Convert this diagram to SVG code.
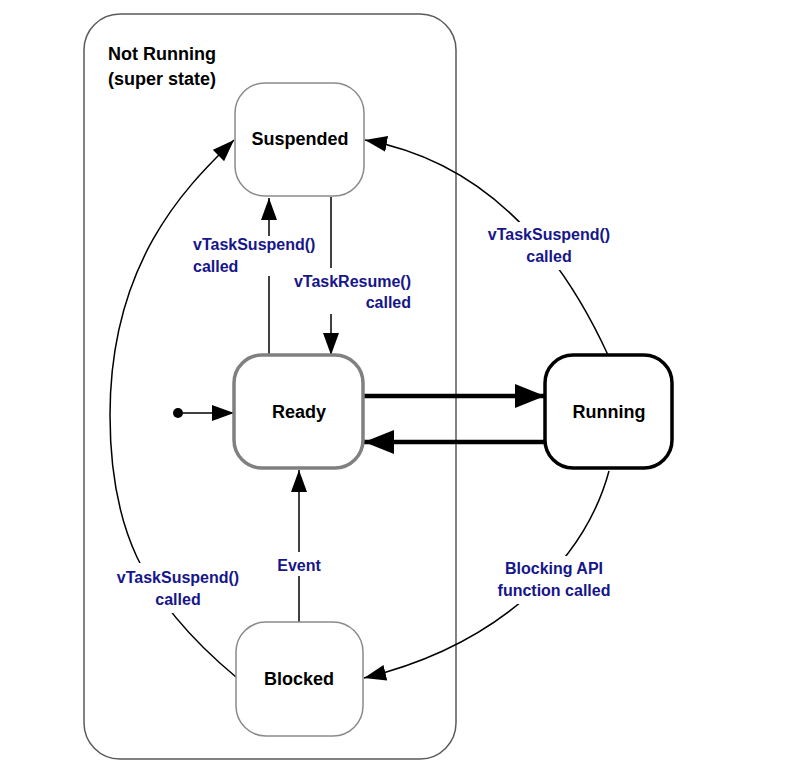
<svg xmlns="http://www.w3.org/2000/svg" width="785" height="777" viewBox="0 0 785 777">
<defs>
<style>
.state{fill:#fff;stroke:#8a8a8a;stroke-width:1.5}
.ready{fill:#fff;stroke:#808080;stroke-width:3.5}
.running{fill:#fff;stroke:#000;stroke-width:3.5}
.super{fill:none;stroke:#5a5a5a;stroke-width:1.5}
.name{font-family:"Liberation Sans",Arial,sans-serif;font-weight:bold;font-size:18px;fill:#000;text-anchor:middle}
.title{font-family:"Liberation Sans",Arial,sans-serif;font-weight:bold;font-size:18px;fill:#000}
.lbl{font-family:"Liberation Sans",Arial,sans-serif;font-weight:bold;font-size:16px;fill:#16168a;text-anchor:middle}
.edge{fill:none;stroke:#000;stroke-width:1.5}
.thick{fill:none;stroke:#000;stroke-width:4.5}
.bg{fill:#fff;stroke:none}
</style>
<marker id="arr" markerUnits="userSpaceOnUse" markerWidth="22" markerHeight="16" refX="22" refY="8" orient="auto">
<path d="M0,0 L22,8 L0,16 z" fill="#000"/>
</marker>
<marker id="arrBig" markerUnits="userSpaceOnUse" markerWidth="30" markerHeight="24" refX="30" refY="12" orient="auto">
<path d="M0,0 L30,12 L0,24 z" fill="#000"/>
</marker>
</defs>

<g id="not-running">
<rect class="super" x="84" y="14" width="372" height="745" rx="36" ry="36"/>
<text class="title" x="108" y="60">Not Running</text>
<text class="title" x="108" y="85">(super state)</text>
</g>

<g id="connectors">
<path class="edge" d="M183,413 L234,413" marker-end="url(#arr)"/>
<path class="edge" d="M269,355 L269,198" marker-end="url(#arr)"/>
<path class="edge" d="M331,197 L331,355" marker-end="url(#arr)"/>
<path class="edge" d="M299,622 L299,470" marker-end="url(#arr)"/>
<path class="thick" d="M364,396 L545,396" marker-end="url(#arrBig)"/>
<path class="thick" d="M545,442 L364,442" marker-end="url(#arrBig)"/>
<path class="edge" d="M608,355 Q522,168 365,140" marker-end="url(#arr)"/>
<path class="edge" d="M609,471 C585,560 500,645 364,678" marker-end="url(#arr)"/>
<path class="edge" d="M236,677 C140,597 110,525 110,415 C110,255 194,180 234,140" marker-end="url(#arr)"/>
</g>

<g id="labels">
<rect class="bg" x="191" y="236" width="128" height="40"/>
<text class="lbl" style="text-anchor:start" x="193" y="250">vTaskSuspend()</text>
<text class="lbl" style="text-anchor:start" x="193" y="272">called</text>
<rect class="bg" x="288" y="268" width="125" height="46"/>
<text class="lbl" style="text-anchor:end" x="411" y="287">vTaskResume()</text>
<text class="lbl" style="text-anchor:end" x="411" y="308">called</text>
<rect class="bg" x="485" y="222" width="129" height="48"/>
<text class="lbl" x="549" y="240">vTaskSuspend()</text>
<text class="lbl" x="549" y="262">called</text>
<rect class="bg" x="494" y="556" width="120" height="48"/>
<text class="lbl" x="554" y="574">Blocking API</text>
<text class="lbl" x="554" y="596">function called</text>
<rect class="bg" x="114" y="563" width="128" height="50"/>
<text class="lbl" x="178" y="583">vTaskSuspend()</text>
<text class="lbl" x="178" y="605">called</text>
<rect class="bg" x="276" y="552" width="47" height="24"/>
<text class="lbl" x="299" y="571">Event</text>
</g>

<g id="initial">
<circle cx="178" cy="413" r="5" fill="#000"/>
</g>

<g id="suspended">
<rect class="state" x="235" y="83" width="129" height="113" rx="30" ry="30"/>
<text class="name" x="300" y="145">Suspended</text>
</g>

<g id="ready">
<rect class="ready" x="234" y="355" width="129" height="113" rx="28" ry="28"/>
<text class="name" x="299" y="418">Ready</text>
</g>

<g id="running">
<rect class="running" x="545" y="355" width="127" height="113" rx="28" ry="28"/>
<text class="name" x="609" y="418">Running</text>
</g>

<g id="blocked">
<rect class="state" x="236" y="622" width="127" height="114" rx="30" ry="30"/>
<text class="name" x="299" y="685">Blocked</text>
</g>
</svg>
